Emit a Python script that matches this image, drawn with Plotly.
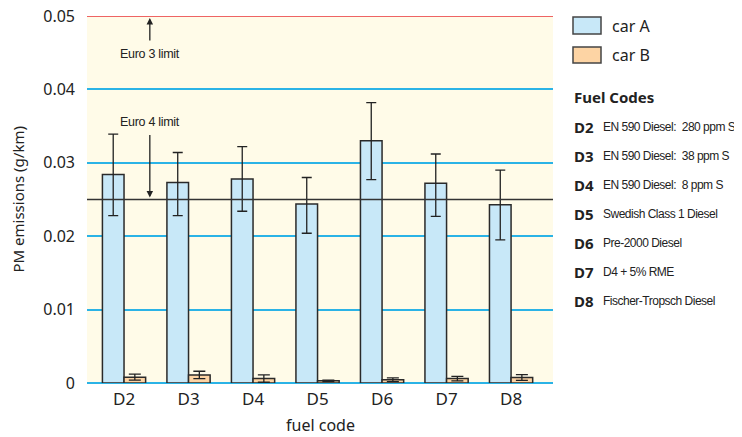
import plotly.graph_objects as go

fuel_codes = ["D2", "D3", "D4", "D5", "D6", "D7", "D8"]
car_a = [0.0284, 0.0273, 0.0278, 0.0244, 0.0330, 0.0272, 0.0243]
car_a_err_plus = [0.0055, 0.0041, 0.0044, 0.0036, 0.0052, 0.0040, 0.0047]
car_a_err_minus = [0.0056, 0.0045, 0.0044, 0.0040, 0.0053, 0.0045, 0.0048]
car_b = [0.0008, 0.0011, 0.0006, 0.0003, 0.00045, 0.0006, 0.00075]
car_b_err = [0.0004, 0.0005, 0.0005, 0.0001, 0.00025, 0.0003, 0.0004]
y_tickvals = [0, 0.01, 0.02, 0.03, 0.04, 0.05]
y_ticktext = ["0", "0.01", "0.02", "0.03", "0.04", "0.05"]
euro3_limit = 0.05
euro4_limit = 0.025
fuel_descriptions = [
    "EN 590 Diesel:  280 ppm S",
    "EN 590 Diesel:  38 ppm S",
    "EN 590 Diesel:  8 ppm S",
    "Swedish Class 1 Diesel",
    "Pre-2000 Diesel",
    "D4 + 5% RME",
    "Fischer-Tropsch Diesel",
]

# the page body adds an 8px margin; layout below is in window pixels
OFF = 8
W, H = 742 - OFF, 437 - OFF
L, R, T, B = 87, 553, 16, 383

def px(xp):
    return (xp - L) / (R - L)

def py(yp):
    return (B - yp) / (B - T)

MAIN_FONT = "Noto Sans, Open Sans, sans-serif"
NARROW = "Liberation Sans, Arial, sans-serif"
GRID = "#2bb3e6"
EDGE = "#2a2a2a"
A_FILL = "#c8e8f8"
B_FILL = "#fdd4a4"
TXT = "#222222"

def narrow(s, ls=-0.5):
    return f'<span style="letter-spacing:{ls}px">{s}</span>'

fig = go.Figure()
fig.add_trace(go.Bar(
    x=fuel_codes, y=car_a, name="car A",
    marker=dict(color=A_FILL, line=dict(color=EDGE, width=1.5)),
    error_y=dict(type="data", array=car_a_err_plus, arrayminus=car_a_err_minus,
                 color=TXT, thickness=1.3, width=5),
))
fig.add_trace(go.Bar(
    x=fuel_codes, y=car_b, name="car B",
    marker=dict(color=B_FILL, line=dict(color=EDGE, width=1.5)),
    error_y=dict(type="data", array=car_b_err, color=TXT, thickness=1.3, width=6),
))

shapes = [
    dict(type="line", xref="paper", yref="y", x0=0, x1=1, y0=euro4_limit, y1=euro4_limit,
         line=dict(color="#333333", width=1.5), layer="above"),
    dict(type="line", xref="paper", yref="y", x0=0, x1=1, y0=euro3_limit, y1=euro3_limit,
         line=dict(color="#ee6464", width=2), layer="above"),
    dict(type="rect", xref="paper", yref="paper", x0=px(573), x1=px(601), y0=py(34), y1=py(17),
         fillcolor=A_FILL, line=dict(color="#444444", width=1.5)),
    dict(type="rect", xref="paper", yref="paper", x0=px(573), x1=px(601), y0=py(63), y1=py(47),
         fillcolor=B_FILL, line=dict(color="#444444", width=1.5)),
]

annotations = [
    dict(xref="paper", yref="paper", x=px(610), y=py(26), text="car A", showarrow=False,
         xanchor="left", yanchor="middle", font=dict(family=MAIN_FONT, size=16, color=TXT)),
    dict(xref="paper", yref="paper", x=px(610), y=py(55), text="car B", showarrow=False,
         xanchor="left", yanchor="middle", font=dict(family=MAIN_FONT, size=16, color=TXT)),
    dict(xref="paper", yref="paper", x=px(572), y=py(97), text="<b>Fuel Codes</b>", showarrow=False,
         xanchor="left", yanchor="middle", font=dict(family=MAIN_FONT, size=15, color=TXT)),
    dict(xref="x", yref="y", x=0.40, y=euro3_limit, ax=0, ay=26, text="", showarrow=True,
         arrowhead=2, arrowsize=1, arrowwidth=1.3, arrowcolor=TXT, standoff=2),
    dict(xref="x", yref="y", x=0.40, y=0.0448, text=narrow("Euro 3 limit", -0.3), showarrow=False,
         font=dict(family=NARROW, size=12.5, color=TXT)),
    dict(xref="x", yref="y", x=0.40, y=0.0356, text=narrow("Euro 4 limit", -0.3), showarrow=False,
         font=dict(family=NARROW, size=12.5, color=TXT)),
    dict(xref="x", yref="y", x=0.40, y=euro4_limit, ax=0, ay=-66, text="", showarrow=True,
         arrowhead=2, arrowsize=1, arrowwidth=1.3, arrowcolor=TXT, standoff=2),
    dict(xref="paper", yref="paper", x=0.5, y=py(425), text="fuel code", showarrow=False,
         xanchor="center", yanchor="middle", font=dict(family=MAIN_FONT, size=16, color=TXT)),
    dict(xref="paper", yref="paper", x=px(17), y=0.5, text="PM emissions (g/km)", showarrow=False,
         textangle=-90, xanchor="center", yanchor="middle",
         font=dict(family=MAIN_FONT, size=15, color=TXT)),
]

row_y = [127, 156, 185, 214, 243, 272, 301]
for code, desc, yy in zip(fuel_codes, fuel_descriptions, row_y):
    annotations.append(dict(xref="paper", yref="paper", x=px(572), y=py(yy), text=f"<b>{code}</b>",
                            showarrow=False, xanchor="left", yanchor="middle",
                            font=dict(family=MAIN_FONT, size=15, color=TXT)))
    annotations.append(dict(xref="paper", yref="paper", x=px(601), y=py(yy), text=narrow(desc),
                            showarrow=False, xanchor="left", yanchor="middle",
                            font=dict(family=NARROW, size=12, color=TXT)))

fig.update_layout(
    width=W, height=H,
    margin=dict(l=L - OFF, r=W - (R - OFF), t=T - OFF, b=H - (B - OFF), pad=0, autoexpand=False),
    paper_bgcolor="white",
    plot_bgcolor="#fffbe8",
    barmode="group", bargap=0.33, bargroupgap=0,
    showlegend=False,
    font=dict(family=MAIN_FONT, color=TXT),
    shapes=shapes,
    annotations=annotations,
    xaxis=dict(
        range=[-0.574, 6.65], showgrid=False, zeroline=False, showline=False,
        ticks="", tickfont=dict(size=17, color=TXT), automargin=False,
        ticklabelstandoff=4,
    ),
    yaxis=dict(
        range=[0, 0.05], tickvals=y_tickvals, ticktext=y_ticktext,
        showgrid=True, gridcolor=GRID, gridwidth=1.5,
        zeroline=True, zerolinecolor=GRID, zerolinewidth=2,
        showline=False, ticks="", ticklabelstandoff=11, automargin=False,
        ticklabeloverflow="allow",
        tickfont=dict(size=16, color=TXT),
    ),
)

fig.write_html("out.html")
